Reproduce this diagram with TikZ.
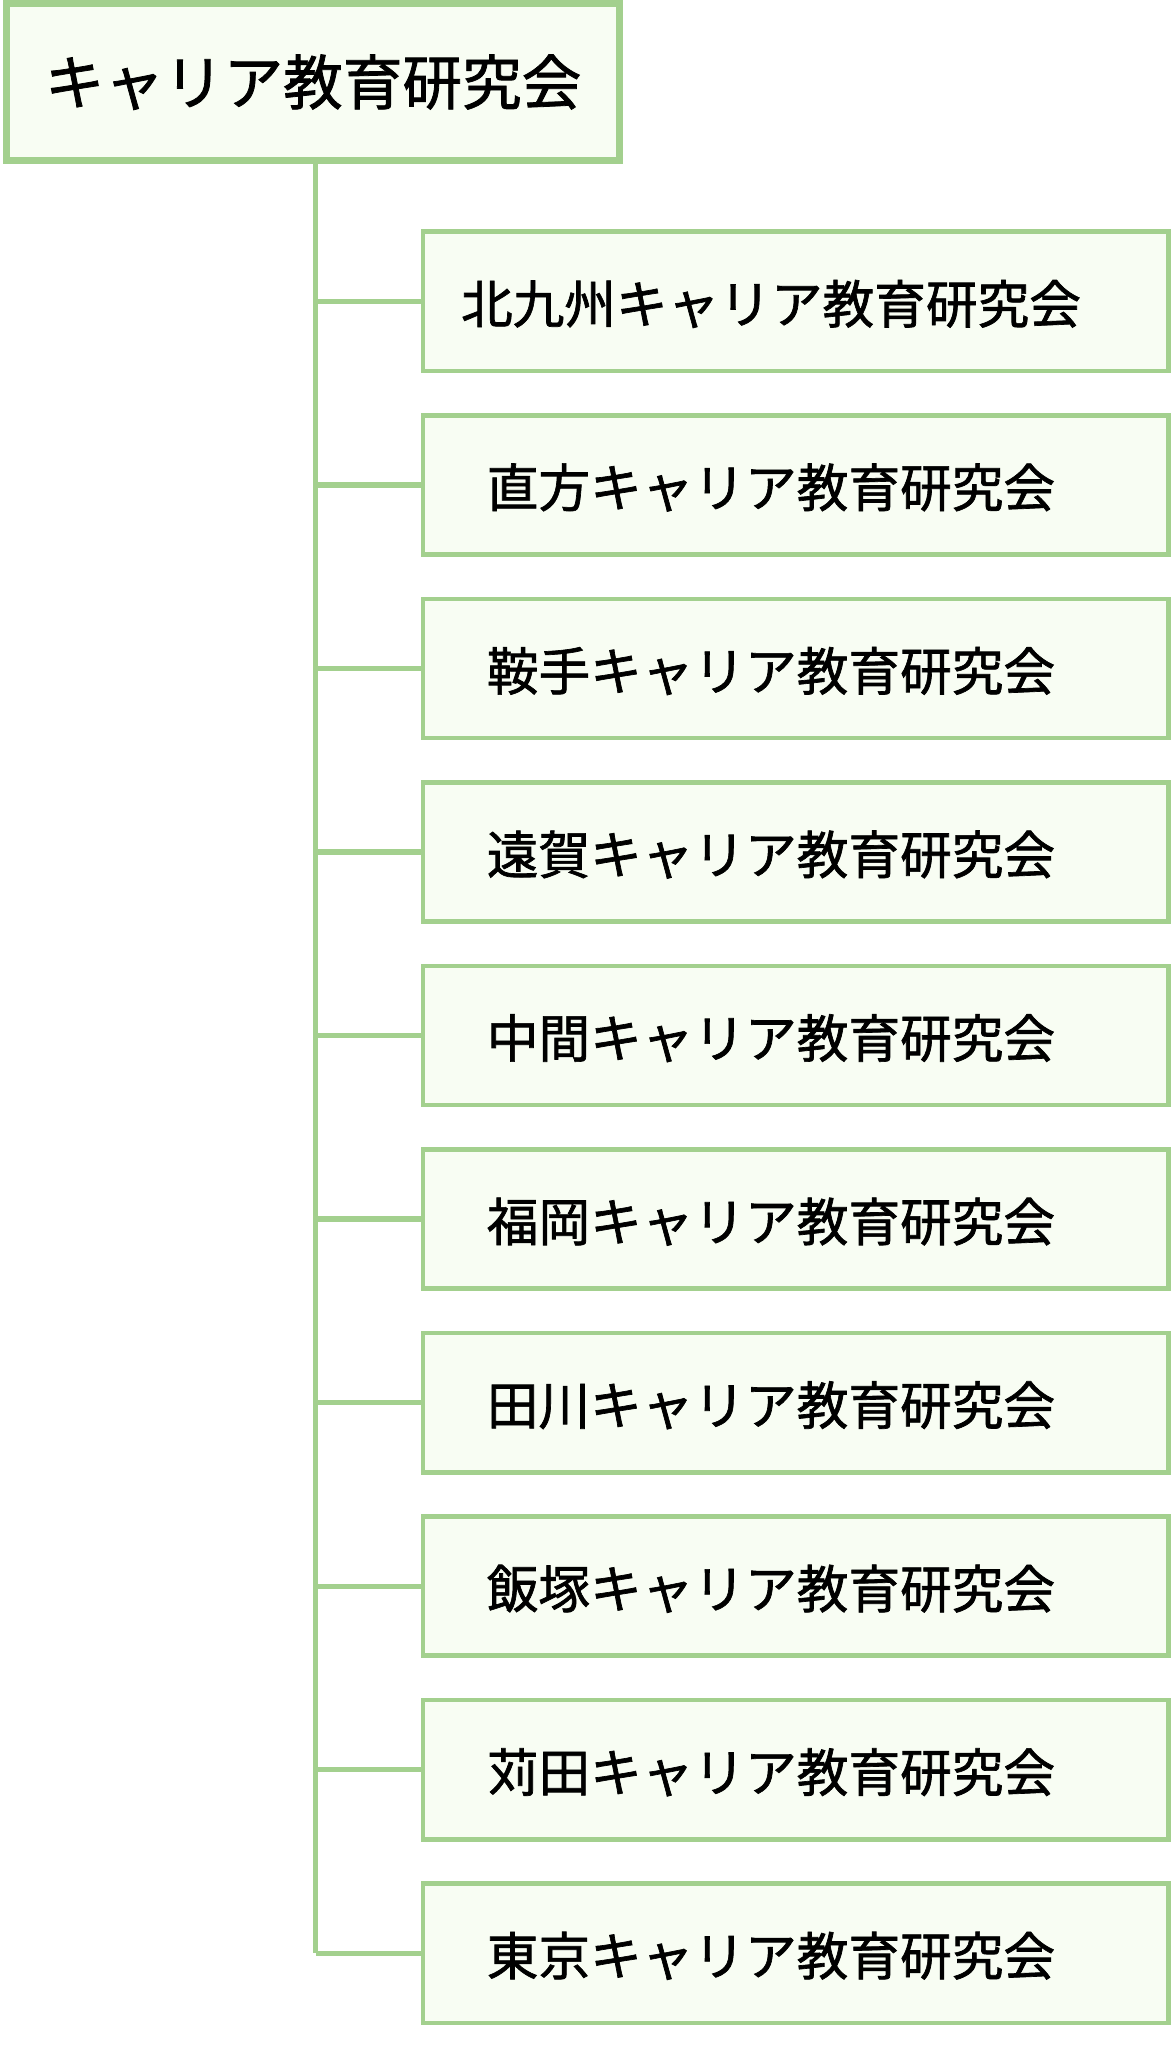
\documentclass[tikz,border=0pt]{standalone}
\usepackage{fontspec}
\newfontfamily\jpfont[FakeBold=1.3]{Noto Sans CJK JP}
\definecolor{boxline}{HTML}{A3D08E}
\definecolor{boxfill}{HTML}{F8FDF3}
\begin{document}
\begin{tikzpicture}[x=0.03cm,y=-0.03cm,
  topbox/.style={draw=boxline,fill=boxfill,line width=4.5pt,minimum width=14.1cm,minimum height=3.6cm,font=\jpfont\fontsize{39}{44}\selectfont},
  subbox/.style={draw=boxline,fill=boxfill,line width=3pt,minimum width=17.15cm,minimum height=3.2cm},
  sublabel/.style={font=\jpfont\fontsize{33.8}{38}\selectfont},
  link/.style={draw=boxline,line width=3.5pt}]
\useasboundingbox (0,0) rectangle (900,1573);
  \node[topbox] (top) at (240,63) {キャリア教育研究会};
  \coordinate (trunkend) at (242,1497);
  \draw[link] (top.south -| trunkend) -- (trunkend);
  \foreach \name [count=\i] in {北九州,直方,鞍手,遠賀,中間,福岡,田川,飯塚,苅田,東京}{
    \node[subbox] (sub\i) at (610,{231+140.7*(\i-1)}) {};
    \node[sublabel] (lbl\i) at (591,{233+140.7*(\i-1)}) {\name キャリア教育研究会};
    \draw[link] (sub\i.west -| trunkend) -- (sub\i.west);
  }
\end{tikzpicture}
\end{document}
